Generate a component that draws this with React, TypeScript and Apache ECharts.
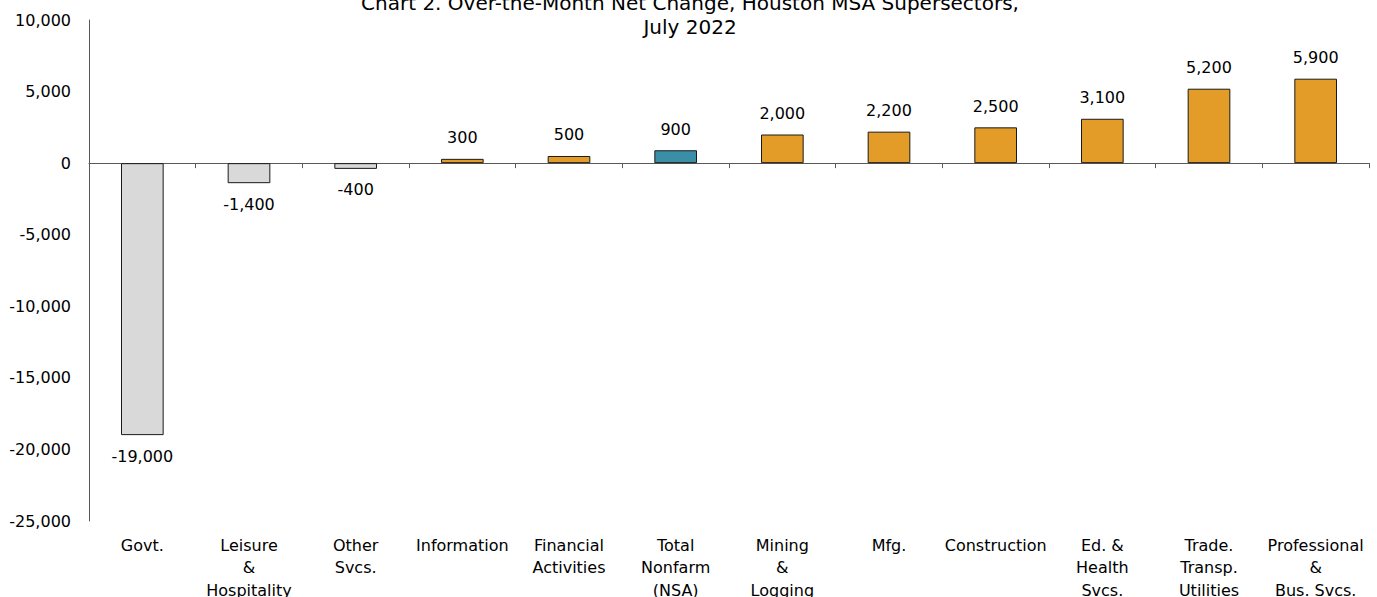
import React, { useEffect, useRef } from "react";
import * as echarts from "echarts";

const categories = [
  "Govt.",
  "Leisure\n&\nHospitality",
  "Other\nSvcs.",
  "Information",
  "Financial\nActivities",
  "Total\nNonfarm\n(NSA)",
  "Mining\n&\nLogging",
  "Mfg.",
  "Construction",
  "Ed. &\nHealth\nSvcs.",
  "Trade.\nTransp.\nUtilities",
  "Professional\n&\nBus. Svcs.",
];
const values = [-19000, -1400, -400, 300, 500, 900, 2000, 2200, 2500, 3100, 5200, 5900];
const totalIndex = 5;
const titleLines = ["Chart 2. Over-the-Month Net Change, Houston MSA Supersectors,", "July 2022"];

const FONT = "DejaVu Sans";

export default function App() {
  const ref = useRef<HTMLDivElement>(null);
  useEffect(() => {
    if (!ref.current) return;
    const chart = echarts.init(ref.current, undefined, { renderer: "svg" });
    const data = values.map((v, i) => ({
      value: v,
      itemStyle: {
        color: i === totalIndex ? "#3a8fa7" : v < 0 ? "#d9d9d9" : "#e49c28",
        borderColor: "#1a1a1a",
        borderWidth: 1,
      },
      label: { position: v < 0 ? "bottom" : "top" },
    }));
    chart.setOption({
      animation: false,
      textStyle: { fontFamily: FONT },
      graphic: [
        {
          type: "text",
          x: 690,
          y: -9,
          style: {
            text: titleLines.join("\n"),
            font: `20px '${FONT}'`,
            fill: "#000",
            align: "center",
            verticalAlign: "top",
            lineHeight: 24,
          },
        },
      ],
      grid: { left: 89, right: 8, top: 20, bottom: 76, outerBoundsMode: "none", containLabel: false },
      xAxis: [
        {
          type: "category",
          data: categories,
          position: "bottom",
          axisLine: { show: false, onZero: false },
          axisTick: { show: false },
          axisLabel: {
            interval: 0,
            color: "#000",
            fontSize: 16,
            fontFamily: FONT,
            lineHeight: 22.5,
            margin: 13,
          },
        },
        {
          type: "category",
          data: categories,
          position: "bottom",
          axisLine: { show: true, onZero: true, lineStyle: { color: "#595959", width: 1 } },
          axisTick: { show: true, length: 5, lineStyle: { color: "#595959" } },
          axisLabel: { show: false },
        },
      ],
      yAxis: {
        type: "value",
        min: -25000,
        max: 10000,
        interval: 5000,
        axisLine: { show: true, lineStyle: { color: "#595959", width: 1 } },
        axisTick: { show: false },
        splitLine: { show: false },
        axisLabel: {
          color: "#000",
          fontSize: 16,
          fontFamily: FONT,
          margin: 18,
          formatter: (v: number) => v.toLocaleString("en-US"),
        },
      },
      series: [
        {
          type: "bar",
          xAxisIndex: 0,
          data,
          barWidth: "40%",
          label: {
            show: true,
            color: "#000",
            fontSize: 16,
            fontFamily: FONT,
            distance: 13,
            formatter: (p: any) => Number(p.value).toLocaleString("en-US"),
          },
        },
      ],
    });
    return () => chart.dispose();
  }, []);
  return (
    <div
      ref={ref}
      style={{ position: "absolute", left: 0, top: 0, width: 1377, height: 597 }}
    />
  );
}
